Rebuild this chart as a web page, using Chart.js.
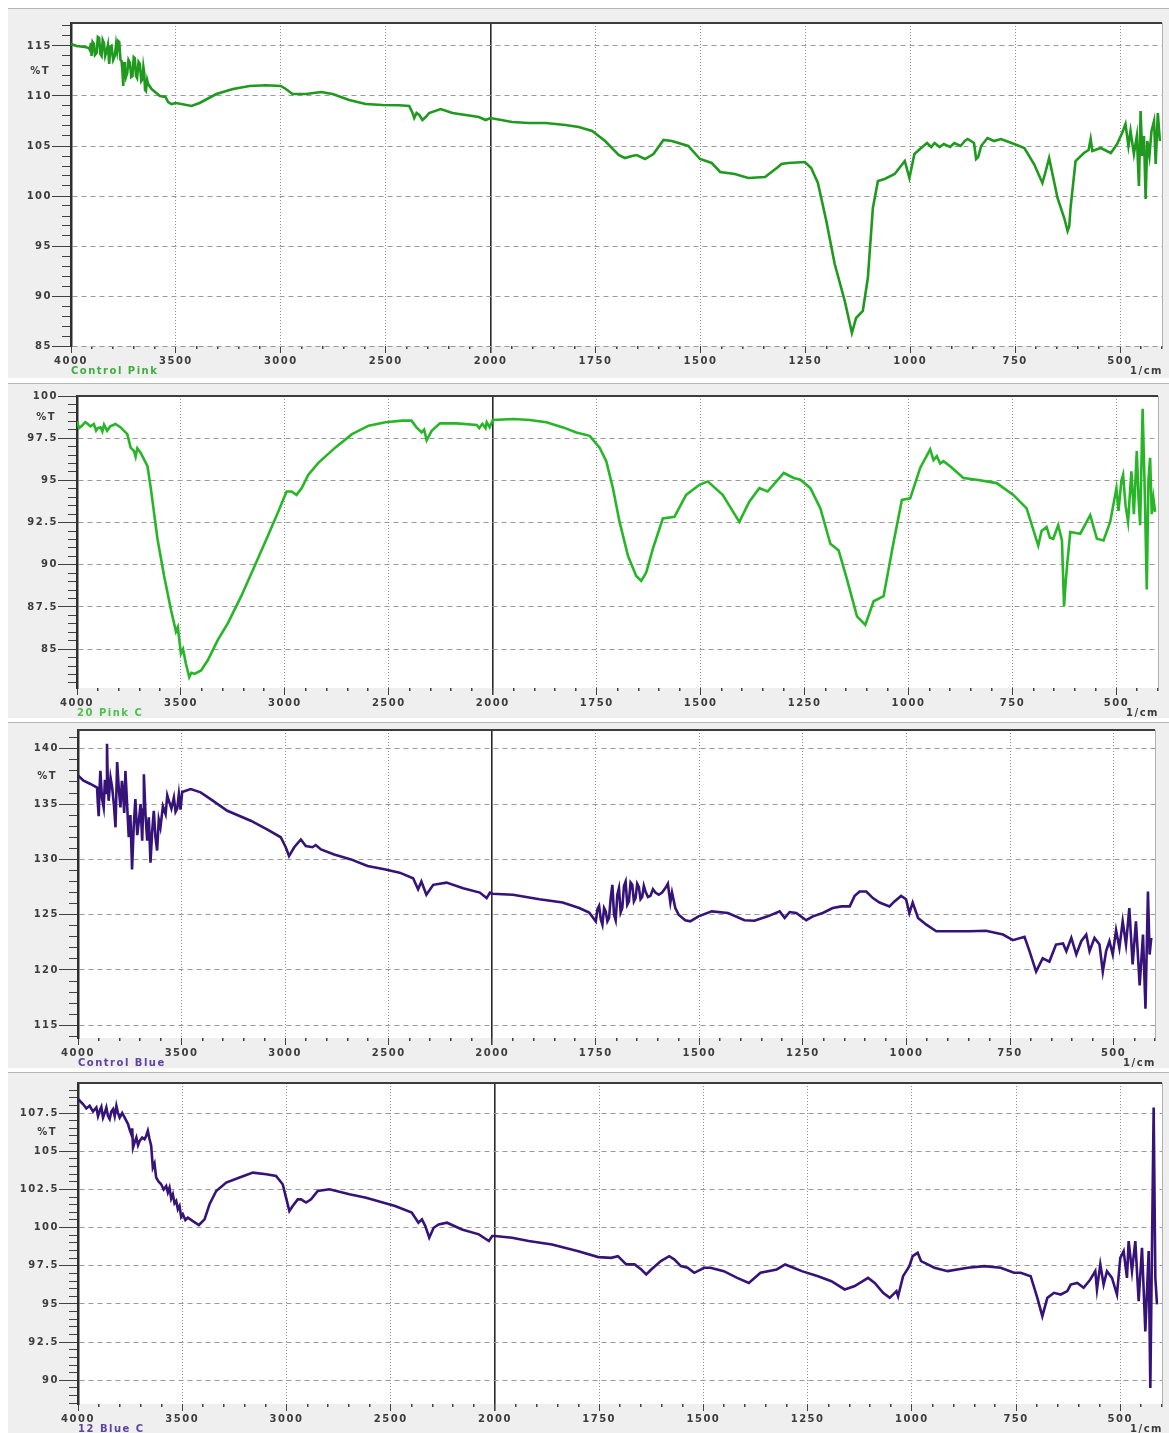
<!DOCTYPE html>
<html>
<head>
<meta charset="utf-8">
<title>FTIR spectra</title>
<script src="https://cdn.jsdelivr.net/npm/chart.js@4.4.1/dist/chart.umd.min.js"></script>
<style>
  html, body { margin: 0; padding: 0; background: #ffffff; }
  .panel { position: absolute; left: 8px; width: 1161px; background: #efefef;
           border-top: 1px solid #b5b5b5; box-sizing: border-box; }
  .panel canvas { display: block; }
</style>
</head>
<body>
<div class="panel" style="top:8px;height:370px"><canvas id="c1" width="1161" height="369"></canvas></div>
<div class="panel" style="top:383px;height:335px"><canvas id="c2" width="1161" height="334"></canvas></div>
<div class="panel" style="top:722px;height:346px"><canvas id="c3" width="1161" height="345"></canvas></div>
<div class="panel" style="top:1072px;height:361px"><canvas id="c4" width="1161" height="360"></canvas></div>
<script>
// Wavenumber labels along the x axis (1/cm); the scale is doubled below 2000.
const xTickLabels = [4000, 3500, 3000, 2500, 2000, 1750, 1500, 1250, 1000, 750, 500];

// Labelled %T ticks for each spectrum
const controlPinkTicks = [85, 90, 95, 100, 105, 110, 115];
const pink20Ticks = [85, 87.5, 90, 92.5, 95, 97.5, 100];
const controlBlueTicks = [115, 120, 125, 130, 135, 140];
const blue12Ticks = [90, 92.5, 95, 97.5, 100, 102.5, 105, 107.5];

// Spectra as [wavenumber (1/cm), %T]
const controlPink = [
  [4000,115.2],[3973,115.0],[3933,114.9],[3915,114.8],[3910,114.6],[3905,115.3],[3902,114.0],[3897,115.4],
  [3891,115.2],[3886,114.1],[3878,114.3],[3872,115.9],[3866,115.8],[3860,114.2],[3854,114.0],[3849,115.6],
  [3843,115.3],[3837,114.0],[3830,114.5],[3824,115.1],[3818,113.2],[3812,114.9],[3807,115.0],[3799,113.6],
  [3791,114.0],[3785,115.2],[3780,114.5],[3775,115.5],[3770,115.4],[3764,113.6],[3759,113.5],[3755,112.5],
  [3751,111.0],[3747,113.4],[3743,112.8],[3738,111.9],[3732,112.3],[3726,113.6],[3719,113.3],[3713,111.9],
  [3707,112.0],[3701,113.9],[3696,113.8],[3690,112.0],[3685,111.8],[3678,113.4],[3672,113.2],[3665,111.5],
  [3659,111.7],[3655,112.9],[3651,112.3],[3647,110.6],[3643,110.5],[3637,111.6],[3632,111.2],[3616,110.7],
  [3576,110.0],[3550,109.9],[3537,109.4],[3521,109.2],[3500,109.3],[3474,109.2],[3426,109.0],[3387,109.3],
  [3307,110.2],[3228,110.7],[3149,111.0],[3070,111.07],[3000,111.0],[2976,110.7],[2944,110.2],[2880,110.2],
  [2808,110.4],[2753,110.2],[2674,109.6],[2595,109.2],[2516,109.1],[2436,109.07],[2388,109.0],[2372,108.3],
  [2364,107.8],[2353,108.3],[2340,108.1],[2325,107.6],[2309,107.9],[2293,108.3],[2238,108.7],[2182,108.3],
  [2119,108.1],[2056,107.9],[2024,107.6],[2000,107.8],[1949,107.4],[1909,107.3],[1869,107.3],[1822,107.1],
  [1790,106.9],[1758,106.5],[1727,105.5],[1695,104.1],[1680,103.8],[1663,104.0],[1652,104.1],[1632,103.7],
  [1612,104.2],[1588,105.6],[1568,105.5],[1529,105.0],[1501,103.7],[1473,103.3],[1453,102.4],[1418,102.2],
  [1386,101.8],[1346,101.9],[1315,102.9],[1307,103.2],[1291,103.3],[1251,103.4],[1236,102.8],[1220,101.3],
  [1200,97.5],[1180,93.2],[1156,89.5],[1139,86.3],[1129,87.8],[1113,88.5],[1101,91.8],[1089,98.8],
  [1077,101.5],[1061,101.7],[1037,102.2],[1013,103.5],[1002,101.8],[990,104.2],[974,104.8],[960,105.3],
  [950,104.9],[942,105.3],[930,104.9],[920,105.2],[905,104.9],[895,105.3],[880,105.0],[870,105.5],
  [863,105.7],[848,105.3],[843,103.7],[838,103.9],[831,105.0],[816,105.8],[800,105.5],[784,105.7],
  [765,105.4],[752,105.2],[728,104.8],[705,103.2],[685,101.3],[677,102.5],[669,103.8],[660,102.0],
  [649,99.8],[633,97.8],[625,96.5],[621,97.0],[618,98.8],[606,103.5],[586,104.3],[575,104.6],[570,105.7],
  [566,104.5],[546,104.8],[522,104.3],[507,105.2],[495,106.3],[487,107.2],[480,105.0],[475,106.5],
  [467,104.2],[460,106.0],[455,101.0],[451,108.5],[447,104.0],[443,106.0],[439,99.7],[435,105.5],
  [430,104.0],[425,106.5],[419,107.5],[415,103.2],[410,108.3],[405,105.5]
];

const pink20 = [
  [4000,98.5],[3990,98.1],[3976,98.24],[3960,98.45],[3952,98.38],[3935,98.2],[3919,98.34],[3908,97.95],
  [3900,98.1],[3887,98.14],[3878,97.9],[3870,98.3],[3855,97.94],[3840,98.2],[3815,98.34],[3790,98.14],
  [3758,97.74],[3742,96.94],[3726,96.74],[3718,96.4],[3710,96.9],[3694,96.64],[3661,95.84],[3645,94.54],
  [3613,91.54],[3581,89.34],[3548,87.34],[3524,86.04],[3515,86.3],[3500,84.74],[3490,85.0],[3476,84.14],
  [3460,83.34],[3450,83.6],[3435,83.54],[3403,83.74],[3371,84.34],[3323,85.54],[3274,86.54],[3210,88.14],
  [3145,89.94],[3081,91.74],[3032,93.14],[2992,94.34],[2968,94.34],[2944,94.14],[2919,94.54],[2887,95.34],
  [2839,96.04],[2758,96.94],[2677,97.74],[2597,98.24],[2516,98.44],[2435,98.54],[2391,98.54],[2367,98.14],
  [2342,97.84],[2330,98.0],[2318,97.38],[2294,97.94],[2254,98.38],[2174,98.38],[2077,98.28],[2065,98.1],
  [2050,98.35],[2035,98.1],[2029,98.44],[2015,98.15],[2000,98.58],[1950,98.64],[1911,98.58],[1871,98.44],
  [1831,98.14],[1799,97.84],[1767,97.64],[1743,96.94],[1727,96.14],[1711,94.54],[1695,92.54],[1675,90.54],
  [1655,89.34],[1643,89.04],[1631,89.54],[1615,90.94],[1591,92.74],[1563,92.84],[1535,94.14],[1503,94.74],
  [1483,94.94],[1447,94.14],[1407,92.54],[1383,93.74],[1359,94.54],[1339,94.34],[1311,95.14],[1300,95.44],
  [1276,95.14],[1260,95.04],[1236,94.54],[1212,93.34],[1188,91.24],[1168,90.84],[1148,89.14],[1124,86.94],
  [1104,86.44],[1084,87.84],[1060,88.14],[1036,91.34],[1016,93.84],[996,93.94],[972,95.74],[948,96.84],
  [940,96.2],[932,96.44],[924,96.0],[916,96.14],[900,95.84],[868,95.14],[836,95.04],[788,94.84],[748,94.14],
  [716,93.34],[688,91.14],[680,92.0],[668,92.24],[660,91.6],[652,91.54],[640,92.34],[631,91.44],[626,87.54],
  [622,89.0],[618,90.14],[611,91.94],[587,91.84],[563,92.94],[547,91.54],[531,91.44],[515,92.54],[500,94.54],
  [495,93.2],[488,95.0],[484,95.34],[478,93.5],[472,92.54],[464,95.54],[458,93.0],[451,96.74],[447,94.0],
  [443,92.34],[437,99.24],[432,94.5],[427,88.54],[423,95.0],[419,96.34],[415,93.0],[411,93.94],[407,93.14]
];

const controlBlue = [
  [4000,137.58],[3973,137.12],[3940,136.82],[3908,136.5],[3904,135.0],[3900,133.9],[3896,136.4],[3892,138.0],
  [3884,135.5],[3876,134.7],[3870,137.2],[3863,136.0],[3860,140.45],[3856,136.8],[3852,135.3],[3843,137.4],
  [3835,136.5],[3826,134.8],[3819,132.9],[3815,135.8],[3811,138.8],[3803,136.4],[3795,134.7],[3788,137.1],
  [3782,136.0],[3777,134.2],[3771,138.0],[3763,135.0],[3755,132.0],[3747,134.0],[3739,129.1],[3731,133.0],
  [3723,135.45],[3714,132.2],[3706,133.5],[3698,135.0],[3690,131.7],[3686,134.5],[3682,137.7],[3674,134.0],
  [3666,131.7],[3658,133.8],[3650,129.7],[3642,132.5],[3634,134.4],[3626,132.0],[3618,130.8],[3610,133.6],
  [3602,132.9],[3590,134.8],[3577,134.1],[3569,135.8],[3561,135.3],[3549,134.6],[3537,135.6],[3529,134.3],
  [3521,134.6],[3513,135.9],[3505,134.5],[3497,136.1],[3456,136.36],[3408,136.06],[3360,135.45],[3279,134.4],
  [3166,133.5],[3085,132.7],[3021,132.0],[2997,131.1],[2981,130.3],[2956,131.1],[2924,131.8],[2900,131.2],
  [2868,131.1],[2852,131.3],[2827,130.9],[2763,130.45],[2682,130.0],[2602,129.4],[2521,129.1],[2447,128.8],
  [2382,128.3],[2358,127.3],[2342,128.0],[2318,126.8],[2285,127.7],[2221,127.9],[2140,127.4],[2060,127.0],
  [2027,126.5],[2011,127.0],[2000,126.9],[1950,126.8],[1886,126.4],[1830,126.1],[1790,125.6],[1766,125.2],
  [1750,124.4],[1746,125.5],[1742,125.8],[1738,124.6],[1734,124.1],[1730,125.6],[1726,125.3],[1722,124.4],
  [1718,124.7],[1714,126.5],[1710,127.7],[1706,125.0],[1702,124.5],[1698,126.8],[1694,127.4],[1690,125.2],
  [1686,125.6],[1682,127.6],[1678,128.0],[1674,125.9],[1670,126.2],[1666,127.9],[1662,127.7],[1658,126.2],
  [1654,126.5],[1650,127.8],[1646,127.5],[1642,126.4],[1638,126.6],[1634,127.6],[1630,127.1],[1624,126.6],
  [1618,126.7],[1612,127.3],[1606,127.0],[1598,126.8],[1590,127.0],[1582,127.4],[1576,127.8],[1570,126.1],
  [1566,127.0],[1558,125.6],[1550,125.0],[1534,124.5],[1522,124.4],[1502,124.85],[1470,125.3],[1431,125.15],
  [1391,124.5],[1367,124.45],[1335,124.85],[1306,125.3],[1294,124.7],[1282,125.24],[1266,125.15],[1242,124.5],
  [1226,124.85],[1202,125.15],[1178,125.6],[1157,125.75],[1137,125.75],[1125,126.7],[1113,127.1],[1097,127.1],
  [1081,126.5],[1065,126.1],[1041,125.75],[1029,126.2],[1013,126.7],[1001,126.4],[993,125.15],[985,126.1],
  [972,124.7],[952,124.1],[928,123.5],[888,123.5],[848,123.5],[808,123.55],[767,123.2],[743,122.7],[715,123.0],
  [703,121.7],[687,119.85],[671,121.06],[655,120.76],[639,122.3],[622,122.4],[614,121.7],[602,122.9],[590,121.4],
  [578,122.6],[566,123.2],[558,121.7],[546,122.9],[534,122.3],[526,119.85],[518,121.7],[510,122.6],[502,121.4],
  [494,123.6],[486,122.0],[478,124.4],[470,122.3],[462,125.6],[454,120.5],[446,124.4],[437,118.6],[429,123.2],
  [423,116.5],[417,127.1],[413,121.4],[409,122.9]
];

const blue12 = [
  [4000,108.42],[3976,108.09],[3960,107.8],[3944,107.98],[3928,107.6],[3912,107.87],[3904,107.3],[3896,107.65],
  [3888,107.9],[3880,107.2],[3872,107.5],[3864,107.87],[3856,107.3],[3848,107.1],[3840,107.6],[3832,107.76],
  [3824,107.3],[3816,107.98],[3808,107.5],[3800,107.2],[3788,107.5],[3776,107.2],[3760,106.78],[3752,106.4],
  [3744,106.1],[3740,106.5],[3736,105.25],[3728,105.6],[3720,105.9],[3712,105.4],[3704,105.68],[3692,105.9],
  [3681,105.79],[3673,106.0],[3665,106.34],[3657,105.8],[3649,105.36],[3641,103.93],[3633,104.2],[3625,103.28],
  [3613,103.0],[3601,102.84],[3589,102.5],[3577,102.73],[3569,102.3],[3561,102.62],[3553,101.9],[3545,102.18],
  [3537,101.6],[3529,101.75],[3521,101.2],[3513,101.42],[3505,100.7],[3497,100.87],[3485,100.5],[3473,100.65],
  [3449,100.43],[3420,100.17],[3393,100.54],[3369,101.53],[3337,102.4],[3289,102.95],[3225,103.28],[3161,103.6],
  [3097,103.5],[3050,103.39],[3018,102.84],[3002,101.96],[2986,101.09],[2970,101.42],[2946,101.85],[2930,101.85],
  [2906,101.64],[2882,101.85],[2850,102.4],[2794,102.51],[2698,102.18],[2618,101.96],[2538,101.64],[2479,101.42],
  [2399,100.98],[2367,100.32],[2350,100.54],[2334,100.1],[2315,99.34],[2294,99.99],[2270,100.21],[2230,100.32],
  [2158,99.88],[2077,99.56],[2029,99.12],[2013,99.45],[2000,99.45],[1959,99.34],[1919,99.12],[1863,98.9],
  [1800,98.46],[1752,98.07],[1721,98.02],[1705,98.13],[1685,97.59],[1665,97.59],[1649,97.26],[1637,96.93],
  [1625,97.26],[1602,97.81],[1582,98.13],[1570,97.92],[1554,97.48],[1538,97.37],[1522,97.04],[1498,97.37],
  [1483,97.37],[1451,97.15],[1419,96.71],[1391,96.38],[1363,97.04],[1324,97.26],[1304,97.59],[1284,97.37],
  [1264,97.15],[1225,96.82],[1193,96.49],[1161,95.95],[1137,96.17],[1105,96.71],[1089,96.38],[1069,95.73],
  [1053,95.4],[1037,95.84],[1033,95.5],[1021,96.82],[1006,97.48],[998,98.13],[986,98.35],[978,97.81],
  [962,97.59],[946,97.37],[914,97.15],[866,97.37],[826,97.48],[787,97.37],[755,97.04],[739,97.04],[715,96.82],
  [699,95.4],[687,94.2],[675,95.4],[659,95.73],[643,95.62],[627,95.84],[619,96.27],[603,96.38],[588,96.06],
  [572,96.6],[560,97.15],[556,95.95],[548,97.59],[540,96.27],[532,97.15],[520,96.71],[508,95.62],[500,98.02],
  [492,98.46],[484,96.71],[480,99.12],[472,97.15],[464,99.12],[456,95.18],[448,98.68],[440,93.2],[432,98.46],
  [428,89.5],[420,107.87],[416,96.71],[412,94.97]
];

// Axis position: 4000-2000 at half the scale of 2000-400.
function toAxis(w) { return w >= 2000 ? (4000 - w) / 2 : 1000 + (2000 - w); }
function fromAxis(u) { return u <= 1000 ? 4000 - 2 * u : 2000 - (u - 1000); }

const LABEL_FONT = { family: 'DejaVu Sans', size: 10, weight: 'bold' };
const INK = '#3c3c3c';

const panelDecor = {
  id: 'panelDecor',
  beforeDraw(chart) {
    const { ctx, chartArea: a } = chart;
    ctx.save();
    ctx.fillStyle = '#ffffff';
    ctx.fillRect(a.left, a.top, a.right - a.left, a.bottom - a.top);
    ctx.restore();
    ctx.letterSpacing = '1.5px';
  },
  afterDraw(chart, args, opts) {
    const { ctx, chartArea: a } = chart;
    const ys = chart.scales.y;
    ctx.save();
    ctx.strokeStyle = '#3c3c3c';
    ctx.lineWidth = 2;
    ctx.beginPath(); ctx.moveTo(a.left, a.top); ctx.lineTo(a.right, a.top); ctx.stroke();
    ctx.strokeStyle = '#b0b0b0';
    ctx.lineWidth = 1;
    ctx.beginPath(); ctx.moveTo(a.right + 0.5, a.top); ctx.lineTo(a.right + 0.5, a.bottom); ctx.stroke();

    ctx.letterSpacing = '1.5px';
    ctx.font = 'bold 10px "DejaVu Sans"';
    ctx.textBaseline = 'middle';
    const t = opts.yTicks;
    const yMid = (ys.getPixelForValue(t[t.length - 1]) + ys.getPixelForValue(t[t.length - 2])) / 2;
    ctx.fillStyle = INK;
    ctx.textAlign = 'right';
    ctx.fillText('%T', a.left - 21, yMid);
    ctx.fillText('1/cm', a.right + 1, a.bottom + 25);
    ctx.textAlign = 'left';
    ctx.fillStyle = opts.nameColor;
    ctx.fillText(opts.name, a.left, a.bottom + 25);
    ctx.restore();
  }
};

function minorValues(min, max, step, majors) {
  const out = [];
  for (let v = Math.ceil(min / step - 1e-9) * step; v <= max + 1e-9; v += step) {
    const r = Math.round(v * 1000) / 1000;
    if (!majors.some(m => Math.abs(m - r) < 1e-6)) out.push(r);
  }
  return out;
}

function makePanel(id, p) {
  const xMajor = xTickLabels.map(toAxis);
  const xMinor = minorValues(0, 2600, 50, xMajor);
  const yMinor = minorValues(p.yMin, p.yMax, p.yMinorStep, p.yTicks);
  new Chart(document.getElementById(id), {
    type: 'line',
    data: {
      datasets: [{
        data: p.series.map(([w, t]) => ({ x: toAxis(w), y: t })),
        borderColor: p.color,
        borderWidth: 2.6,
        pointRadius: 0,
        tension: 0,
        fill: false
      }]
    },
    plugins: [panelDecor],
    options: {
      responsive: false,
      animation: false,
      events: [],
      layout: { padding: { top: p.padTop, right: p.padRight, left: 0, bottom: 0 } },
      plugins: {
        legend: { display: false },
        tooltip: { enabled: false },
        panelDecor: { name: p.name, nameColor: p.nameColor, yTicks: p.yTicks }
      },
      scales: {
        x: {
          type: 'linear', position: 'bottom', weight: 1, min: 0, max: 2600,
          afterBuildTicks: s => { s.ticks = xMajor.map(v => ({ value: v })); },
          afterFit: s => { s.height = p.xHeight; },
          ticks: { callback: v => String(fromAxis(v)), font: LABEL_FONT, color: INK,
                   padding: 2, maxRotation: 0, autoSkip: false },
          grid: {
            color: c => (c.tick && c.tick.value === 1000) ? '#2a2a2a' : '#8e8e8e',
            lineWidth: c => (c.tick && c.tick.value === 1000) ? 1.6 : 1,
            tickColor: '#404040', tickLength: 7
          },
          border: { display: false, dash: c => (c.tick && c.tick.value === 1000) ? [] : [1, 2] }
        },
        xm: {
          type: 'linear', position: 'bottom', weight: 0, min: 0, max: 2600,
          afterBuildTicks: s => { s.ticks = xMinor.map(v => ({ value: v })); },
          afterFit: s => { s.height = 0; },
          ticks: { display: false },
          grid: { drawOnChartArea: false, tickColor: '#404040', tickLength: 3, lineWidth: 1.5 },
          border: { display: false }
        },
        y: {
          type: 'linear', position: 'left', weight: 1, min: p.yMin, max: p.yMax,
          afterBuildTicks: s => { s.ticks = p.yTicks.map(v => ({ value: v })); },
          afterFit: s => { s.width = p.yWidth; },
          ticks: { callback: v => String(v), font: LABEL_FONT, color: INK, padding: 0 },
          grid: { color: '#9a9a9a', lineWidth: 1, tickColor: '#404040', tickLength: 19 },
          border: { display: true, color: '#2e2e2e', width: 2.5, dash: () => [5, 4] }
        },
        ym: {
          type: 'linear', position: 'left', weight: 0, min: p.yMin, max: p.yMax,
          afterBuildTicks: s => { s.ticks = yMinor.map(v => ({ value: v })); },
          afterFit: s => { s.width = 0; },
          ticks: { display: false },
          grid: { drawOnChartArea: false, tickColor: '#404040', tickLength: 9 },
          border: { display: false }
        }
      }
    }
  });
}

makePanel('c1', { series: controlPink, color: '#1f9a1f', name: 'Control Pink', nameColor: '#3fae3f',
  yTicks: controlPinkTicks, yMin: 85, yMax: 117.3, yMinorStep: 1,
  yWidth: 63, xHeight: 32, padTop: 14, padRight: 7 });
makePanel('c2', { series: pink20, color: '#27b627', name: '20 Pink C', nameColor: '#4cc24c',
  yTicks: pink20Ticks, yMin: 82.7, yMax: 100, yMinorStep: 0.5,
  yWidth: 69, xHeight: 30, padTop: 12, padRight: 11 });
makePanel('c3', { series: controlBlue, color: '#361378', name: 'Control Blue', nameColor: '#5e43a0',
  yTicks: controlBlueTicks, yMin: 113.85, yMax: 141.7, yMinorStep: 1,
  yWidth: 70, xHeight: 30, padTop: 7, padRight: 14 });
makePanel('c4', { series: blue12, color: '#361378', name: '12 Blue C', nameColor: '#5e43a0',
  yTicks: blue12Ticks, yMin: 88.45, yMax: 109.47, yMinorStep: 0.5,
  yWidth: 70, xHeight: 29, padTop: 10, padRight: 7 });
</script>
</body>
</html>
